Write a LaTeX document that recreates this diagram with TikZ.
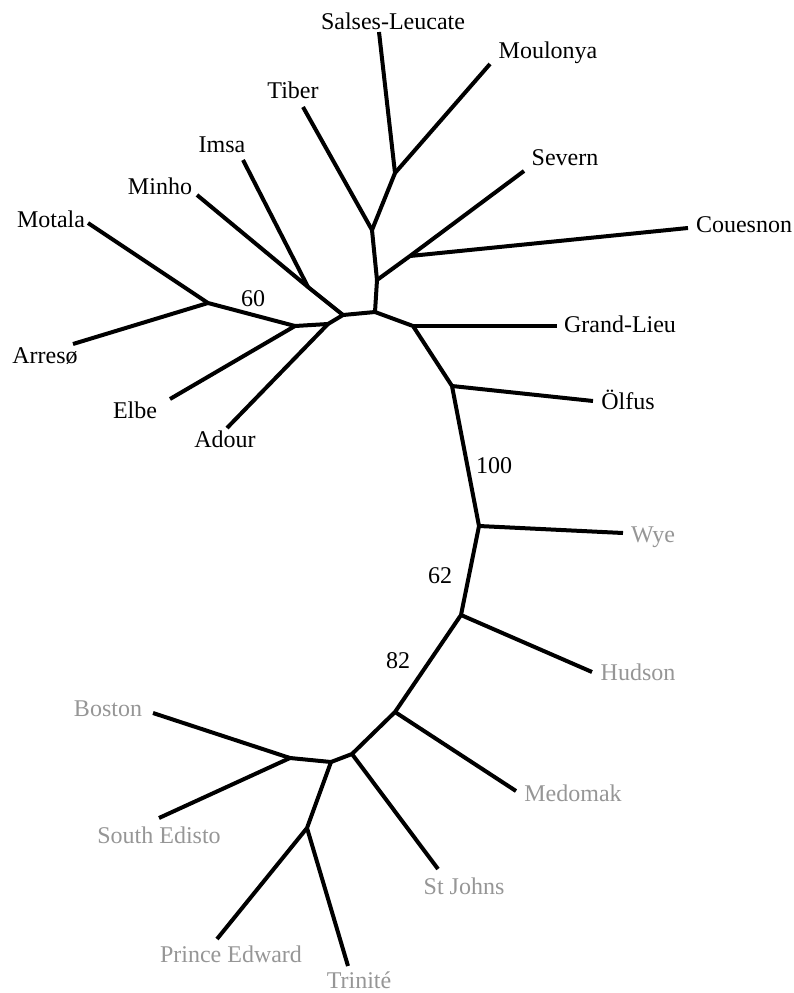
\documentclass[tikz,border=0pt]{standalone}
\usepackage{fontspec}
\setmainfont{Liberation Serif}
\definecolor{tgray}{RGB}{150,150,150}
\begin{document}
\begin{tikzpicture}[x=1pt,y=-1pt,
  edge/.style={line width=4pt,line join=round,line cap=butt},
  lab/.style={anchor=base,inner sep=0pt,font=\fontsize{24}{28}\selectfont},
  glab/.style={lab,text=tgray}]
\useasboundingbox (0,0) rectangle (794,993);
% internal nodes
\coordinate (c0) at (375,312);
\coordinate (a1) at (343,315);
\coordinate (mi) at (308,287);
\coordinate (ad) at (328,324);
\coordinate (el) at (295,326);
\coordinate (mo) at (208,303);
\coordinate (b1) at (377,280);
\coordinate (sv) at (410,256);
\coordinate (ti) at (372,230);
\coordinate (sl) at (395,173);
\coordinate (gl) at (413,326);
\coordinate (ol) at (452,386);
\coordinate (wy) at (479,526);
\coordinate (hu) at (461,615);
\coordinate (me) at (395,712);
\coordinate (sj) at (352,754);
\coordinate (n2) at (331,762);
\coordinate (bs) at (290,758);
\coordinate (pe) at (307,828);
% tips
\coordinate (tMinho) at (197,195);
\coordinate (tImsa) at (243,160);
\coordinate (tAdour) at (227,428);
\coordinate (tElbe) at (170,399);
\coordinate (tMotala) at (88,223);
\coordinate (tArreso) at (73,344);
\coordinate (tSevern) at (524,171);
\coordinate (tCouesnon) at (688,228);
\coordinate (tTiber) at (303,107);
\coordinate (tSalses) at (379,32);
\coordinate (tMoulonya) at (490,64);
\coordinate (tGrand) at (557,326);
\coordinate (tOlfus) at (593,401);
\coordinate (tWye) at (623,533);
\coordinate (tHudson) at (592,672);
\coordinate (tMedomak) at (516,791);
\coordinate (tStJohns) at (438,869);
\coordinate (tBoston) at (153,713);
\coordinate (tSEdisto) at (159,818);
\coordinate (tPEdward) at (217,939);
\coordinate (tTrinite) at (348,966);
% edges
\draw[edge] (tMotala) -- (mo) -- (el) -- (ad) -- (a1) -- (c0) -- (gl) -- (ol) -- (wy) -- (hu) -- (me) -- (sj) -- (n2) -- (bs) -- (tBoston);
\draw[edge] (mo) -- (tArreso);
\draw[edge] (el) -- (tElbe);
\draw[edge] (ad) -- (tAdour);
\draw[edge] (a1) -- (mi) -- (tMinho);
\draw[edge] (mi) -- (tImsa);
\draw[edge] (c0) -- (b1) -- (ti) -- (sl) -- (tSalses);
\draw[edge] (sl) -- (tMoulonya);
\draw[edge] (ti) -- (tTiber);
\draw[edge] (b1) -- (sv) -- (tSevern);
\draw[edge] (sv) -- (tCouesnon);
\draw[edge] (gl) -- (tGrand);
\draw[edge] (ol) -- (tOlfus);
\draw[edge] (wy) -- (tWye);
\draw[edge] (hu) -- (tHudson);
\draw[edge] (me) -- (tMedomak);
\draw[edge] (sj) -- (tStJohns);
\draw[edge] (bs) -- (tSEdisto);
\draw[edge] (n2) -- (pe) -- (tPEdward);
\draw[edge] (pe) -- (tTrinite);
% labels
\node[lab] (lSalses) at (393,29) {Salses-Leucate};
\node[lab] (lMoulonya) at (548,58) {Moulonya};
\node[lab] (lSevern) at (565,165) {Severn};
\node[lab] (lCouesnon) at (744,232) {Couesnon};
\node[lab] (lTiber) at (293,98) {Tiber};
\node[lab] (lImsa) at (222,152) {Imsa};
\node[lab] (lMinho) at (160,194) {Minho};
\node[lab] (lMotala) at (51,227) {Motala};
\node[lab] (lArreso) at (45,363) {Arresø};
\node[lab] (lElbe) at (135,418) {Elbe};
\node[lab] (lAdour) at (225,447) {Adour};
\node[lab] (b60) at (253,306) {60};
\node[lab] (lGrand) at (620,332) {Grand-Lieu};
\node[lab] (lOlfus) at (628,409) {Ölfus};
\node[lab] (b100) at (494,473) {100};
\node[glab] (lWye) at (653,542) {Wye};
\node[lab] (b62) at (440,583) {62};
\node[lab] (b82) at (398,668) {82};
\node[glab] (lHudson) at (638,680) {Hudson};
\node[glab] (lMedomak) at (573,801) {Medomak};
\node[glab] (lBoston) at (108,716) {Boston};
\node[glab] (lSEdisto) at (159,843) {South Edisto};
\node[glab] (lStJohns) at (464,894) {St Johns};
\node[glab] (lPEdward) at (231,962) {Prince Edward};
\node[glab] (lTrinite) at (359,988) {Trinité};
\end{tikzpicture}
\end{document}
